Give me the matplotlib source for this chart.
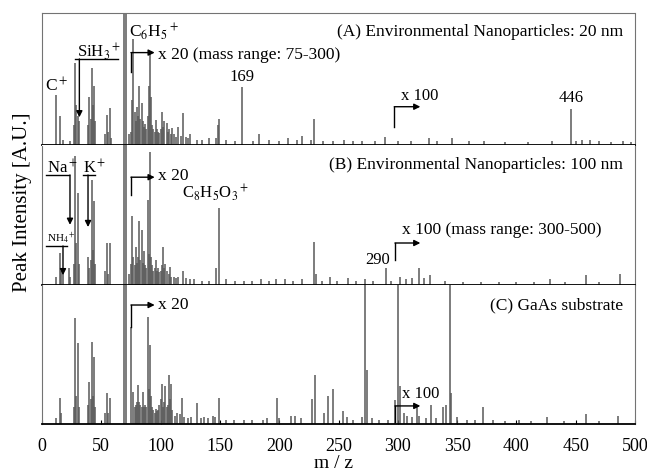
import matplotlib.pyplot as plt

plt.rcParams["font.family"] = "Liberation Serif"
plt.rcParams["mathtext.fontset"] = "stix"

# (A) Environmental Nanoparticles: 20 nm  -- m/z and intensity (% of panel height)
mzA = [12, 15, 18, 24, 27, 28, 29, 30, 31, 39, 40, 41, 42, 43, 44, 45, 53, 55, 56, 57, 58,
       69, 71, 73, 75, 76, 77, 78, 79, 80, 81, 82, 83, 84, 85, 86, 87, 88, 89, 90, 91, 92,
       93, 94, 95, 96, 97, 98, 99, 100, 101, 102, 103, 105, 106, 107, 109, 110, 111, 113,
       115, 117, 119, 121, 123, 125, 131, 135, 141, 147, 148, 149, 155, 163, 169, 178, 183,
       191, 200, 207, 215, 219, 227, 229, 237, 245, 255, 262, 270, 281, 289, 300, 311, 326,
       333, 346, 360, 373, 390, 410, 430, 446, 450, 455, 462, 470, 480, 490, 497]
intA = [38, 22, 4, 3, 15, 62, 30, 22, 18, 15, 36, 20, 58, 30, 45, 18, 8, 23, 10, 28, 5,
        100, 100, 8, 10, 34, 80, 25, 18, 29, 22, 45, 20, 32, 18, 14, 16, 12, 22, 45, 70, 36,
        15, 12, 10, 19, 12, 10, 9, 12, 25, 14, 18, 17, 10, 12, 8, 13, 8, 6,
        14, 7, 24, 6, 5, 8, 4, 4, 5, 5, 15, 20, 4, 3, 44, 3, 8,
        4, 3, 5, 4, 7, 4, 20, 3, 3, 4, 3, 3, 3, 6, 3, 3, 5,
        3, 5, 3, 3, 2, 2, 3, 27, 3, 4, 4, 3, 2, 3, 2]

# (B) Environmental Nanoparticles: 100 nm
mzB = [12, 15, 16, 18, 23, 24, 27, 28, 29, 30, 31, 39, 40, 41, 42, 43, 44, 45, 53, 55, 56,
       57, 69, 71, 73, 75, 76, 77, 78, 79, 80, 81, 82, 83, 84, 85, 86, 87, 88, 89, 90, 91,
       92, 93, 94, 95, 96, 97, 98, 99, 100, 101, 102, 103, 104, 105, 107, 108, 109, 111,
       113, 115, 119, 121, 125, 128, 135, 141, 147, 149, 155, 163, 170, 177, 185, 191, 197,
       205, 212, 219, 229, 231, 236, 243, 249, 258, 265, 272, 279, 290, 294, 302, 307, 312,
       318, 322, 327, 340, 355, 370, 385, 400, 415, 428, 441, 459, 470, 487]
intB = [6, 23, 10, 8, 12, 6, 15, 92, 30, 66, 15, 20, 12, 18, 75, 25, 60, 15, 10, 30, 8,
        30, 100, 100, 8, 15, 49, 20, 14, 27, 16, 20, 46, 18, 39, 16, 24, 14, 12, 61, 22, 95,
        20, 14, 10, 12, 18, 10, 12, 9, 10, 14, 27, 12, 15, 10, 8, 13, 6, 6,
        5, 6, 10, 5, 4, 4, 3, 3, 12, 55, 4, 3, 3, 3, 4, 3, 4,
        4, 3, 4, 31, 8, 3, 6, 3, 5, 3, 4, 3, 12, 3, 6, 4, 5,
        12, 5, 7, 3, 2, 2, 2, 2, 2, 4, 2, 7, 2, 8]

# (C) GaAs substrate
mzC = [12, 15, 16, 27, 28, 29, 30, 31, 39, 40, 41, 42, 43, 44, 45, 53, 55, 56, 57, 69, 71,
       75, 77, 78, 79, 80, 81, 82, 83, 84, 85, 86, 87, 88, 89, 90, 91, 92, 93, 94, 95, 96,
       97, 98, 99, 100, 101, 102, 103, 104, 105, 106, 107, 108, 109, 110, 112, 114, 116,
       118, 120, 123, 126, 131, 134, 137, 140, 144, 146, 149, 155, 162, 170, 177, 186, 190,
       198, 200, 210, 213, 218, 228, 230, 238, 241, 245, 254, 257, 262, 270, 272, 274, 278,
       284, 292, 298, 300, 302, 305, 308, 312, 316, 318, 324, 328, 332, 338, 341, 344, 345,
       350, 358, 365, 372, 380, 390, 402, 412, 426, 440, 459, 470, 486]
intC = [4, 19, 8, 12, 76, 20, 58, 12, 14, 30, 18, 59, 20, 48, 12, 8, 22, 8, 19, 100, 100,
        70, 23, 12, 14, 16, 28, 16, 14, 12, 23, 12, 14, 12, 77, 25, 57, 20, 12, 10, 8, 11,
        9, 10, 14, 18, 29, 12, 16, 27, 12, 14, 35, 18, 29, 10, 6, 8, 7,
        19, 5, 4, 5, 15, 4, 5, 4, 6, 5, 19, 3, 3, 3, 3, 3, 4,
        19, 4, 6, 6, 4, 18, 35, 8, 20, 25, 9, 5, 3, 5, 100, 39, 4,
        3, 3, 17, 100, 27, 8, 6, 5, 14, 6, 4, 14, 4, 12, 14, 100, 22,
        5, 3, 3, 12, 3, 2, 3, 2, 5, 2, 7, 2, 6]

W, H = 647, 474
fig = plt.figure(figsize=(W / 100, H / 100), dpi=100)


def panel(top, bottom, mz, inten, first=False):
    ax = fig.add_axes([42 / W, 1 - bottom / H, (635 - 42) / W, (bottom - top) / H])
    ax.vlines(mz, 0, inten, color="0.35", lw=1.1)
    ax.set_xlim(0, 500)
    ax.set_ylim(0, 100)
    ax.set_yticks([])
    for side in ["left", "right", "top"]:
        ax.spines[side].set_color("0.45")
        ax.spines[side].set_linestyle((0, (1, 1)))
        ax.spines[side].set_linewidth(0.8)
    ax.spines["top"].set_visible(first)
    ax.spines["bottom"].set_linewidth(1.3)
    ax.spines["bottom"].set_zorder(5)
    return ax


def bracket(ax, x0, y0, y1, x1):
    ax.plot([x0, x0], [y0, y1], color="k", lw=1)
    ax.annotate("", xy=(x1, y1), xytext=(x0, y1),
                arrowprops=dict(arrowstyle="-|>", color="k", lw=1, mutation_scale=9, shrinkA=0, shrinkB=0))


def down_arrow(ax, xb0, xb1, ybar, xa, ytip):
    ax.plot([xb0, xb1], [ybar, ybar], color="k", lw=1)
    ax.annotate("", xy=(xa, ytip), xytext=(xa, ybar),
                arrowprops=dict(arrowstyle="-|>", color="k", lw=1, mutation_scale=9, shrinkA=0, shrinkB=0))


fs = 12.5
axA = panel(13, 145, mzA, intA, first=True)
axB = panel(145, 285, mzB, intB)
axC = panel(285, 424, mzC, intC)

for ax in (axA, axB):
    ax.set_xticks([])

axC.set_xticks(range(0, 501, 50))
axC.tick_params(axis="x", direction="in", length=3, pad=10, labelsize=13)

# panel A annotations
axA.text(490, 85.6, "(A) Environmental Nanoparticles: 20 nm", ha="right", va="center", fontsize=fs)
axA.text(73.5, 85.6, "C$_6$H$_5$$^+$", ha="left", va="center", fontsize=fs)
axA.text(97.5, 68.2, "x 20 (mass range: 75-300)", ha="left", va="center", fontsize=fs)
bracket(axA, 75, 55, 70, 95)
axA.text(169, 51.5, "169", ha="center", va="center", fontsize=12)
axA.text(12, 44.7, "C$^+$", ha="center", va="center", fontsize=fs)
axA.text(29.5, 71, "SiH$_3$$^+$", ha="left", va="center", fontsize=12)
down_arrow(axA, 28, 64, 65.2, 31.5, 21)
axA.text(303, 37, "x 100", ha="left", va="center", fontsize=12)
bracket(axA, 297, 14, 29, 319)
axA.text(446, 35.6, "446", ha="center", va="center", fontsize=12)

# panel B annotations
axB.text(490, 85.7, "(B) Environmental Nanoparticles: 100 nm", ha="right", va="center", fontsize=fs)
axB.text(4, 83.6, "Na$^+$", ha="left", va="center", fontsize=12)
down_arrow(axB, 3.4, 22.8, 78.6, 23.6, 43)
axB.text(34.6, 83.6, "K$^+$", ha="left", va="center", fontsize=12)
down_arrow(axB, 34.6, 44.7, 78.6, 38.8, 41.4)
axB.text(4, 33.6, "NH$_4$$^+$", ha="left", va="center", fontsize=8)
down_arrow(axB, 3.4, 21, 27.9, 17.7, 7)
bracket(axB, 75, 64, 77, 95)
axB.text(97.5, 77.9, "x 20", ha="left", va="center", fontsize=fs)
axB.text(146.7, 66.4, "C$_8$H$_5$O$_3$$^+$", ha="center", va="center", fontsize=12)
axB.text(283, 17.9, "290", ha="center", va="center", fontsize=12)
bracket(axB, 297.6, 18, 30, 319)
axB.text(303.5, 39.3, "x 100 (mass range: 300-500)", ha="left", va="center", fontsize=fs)

# panel C annotations
axC.text(490, 85.6, "(C) GaAs substrate", ha="right", va="center", fontsize=fs)
bracket(axC, 75, 70, 85.6, 95)
axC.text(97.5, 85.6, "x 20", ha="left", va="center", fontsize=fs)
bracket(axC, 297.6, 1.4, 13, 319)
axC.text(303.5, 21.6, "x 100", ha="left", va="center", fontsize=12)

fig.text(23 / W, 1 - 202 / H, "Peak Intensity [A.U.]", rotation=90, ha="center", va="center", fontsize=15)
fig.text(333 / W, 1 - 463 / H, "m / z", ha="center", va="center", fontsize=14)

fig.savefig("out.png", dpi=100)
